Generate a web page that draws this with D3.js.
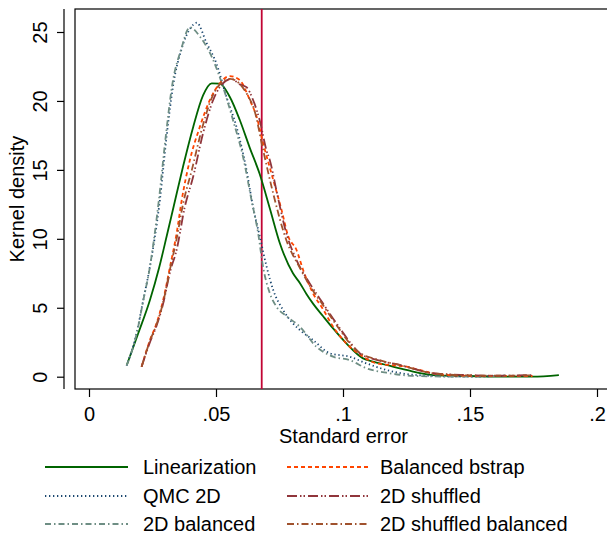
<!DOCTYPE html>
<html>
<head>
<meta charset="utf-8">
<script src="https://cdn.jsdelivr.net/npm/d3@7"></script>
<style>
  body { margin: 0; background: #fff; }
  text { font-family: "Liberation Sans", Arial, sans-serif; fill: #000; }
</style>
</head>
<body>
<script>
// Kernel density of standard errors, six estimators

// values: [standard error, density]
const linearization = [[0.0150,0.9],[0.0194,3.15],[0.024,5.56],[0.0276,7.9],[0.0306,10.2],[0.0334,12.4],[0.0371,15.3],[0.041,18.1],[0.0449,20.4],[0.0483,21.28],[0.0515,21.25],[0.0554,20.3],[0.0594,18.6],[0.0633,16.6],[0.0672,14.7],[0.0712,12.2],[0.0751,9.7],[0.0803,7.5],[0.083,6.8],[0.0856,6.0],[0.0882,5.3],[0.0921,4.4],[0.0961,3.5],[0.1013,2.42],[0.1079,1.33],[0.1118,1.09],[0.1171,0.85],[0.1249,0.49],[0.1354,0.12],[0.1485,0.05],[0.1746,0.0],[0.185,0.12]];
const qmc2d = [[0.0148,0.8],[0.0188,3.2],[0.0214,5.6],[0.024,8.0],[0.0279,12.8],[0.0306,17.5],[0.0332,21.2],[0.0365,23.8],[0.0400,25.3],[0.0424,25.67],[0.0463,24.2],[0.0502,22.7],[0.0541,20.3],[0.0581,18.1],[0.062,15.0],[0.0646,12.3],[0.0672,10.2],[0.0699,8.0],[0.0725,6.3],[0.0764,4.84],[0.0803,3.87],[0.083,3.39],[0.0882,2.66],[0.0948,1.7],[0.1026,1.45],[0.1092,0.97],[0.1171,0.49],[0.1289,0.12],[0.1485,0.0],[0.164,0.08]];
const balanced2d = [[0.0148,0.8],[0.0188,3.15],[0.0214,5.56],[0.024,7.98],[0.0275,12.8],[0.0302,17.4],[0.0328,21.2],[0.0362,23.7],[0.0397,25.34],[0.0437,24.66],[0.0489,22.96],[0.0528,21.0],[0.0567,18.6],[0.0607,15.9],[0.064,12.8],[0.0666,10.4],[0.0685,8.0],[0.0712,6.05],[0.0738,5.08],[0.0777,4.4],[0.083,3.63],[0.0895,2.18],[0.0961,1.45],[0.1026,1.21],[0.1092,0.61],[0.1171,0.29],[0.1289,0.05],[0.1485,0.0],[0.164,0.07]];
const balancedBstrap = [[0.0207,0.72],[0.024,2.66],[0.0266,3.87],[0.0292,5.56],[0.0319,7.98],[0.0345,10.4],[0.0365,12.8],[0.0397,15.7],[0.0436,18.1],[0.0476,20.07],[0.0515,21.28],[0.0554,21.8],[0.0594,21.5],[0.0633,20.07],[0.066,18.85],[0.0686,16.9],[0.0725,14.3],[0.0758,12.1],[0.0784,10.2],[0.0817,9.19],[0.0843,7.74],[0.0882,6.05],[0.0921,4.9],[0.0961,3.63],[0.1013,2.42],[0.1079,1.45],[0.1131,0.97],[0.1184,0.85],[0.1249,0.73],[0.1302,0.49],[0.1367,0.2],[0.1485,0.07],[0.1746,0.05]];
const shuffled2d = [[0.0207,0.72],[0.024,2.5],[0.0266,3.7],[0.0292,5.3],[0.0319,7.6],[0.0345,9.2],[0.0377,12.3],[0.041,14.5],[0.0449,17.65],[0.0489,20.07],[0.0523,21.2],[0.056,21.6],[0.0594,21.2],[0.062,21.0],[0.0646,20.07],[0.0672,18.6],[0.0699,16.4],[0.0712,15.7],[0.0738,13.5],[0.0777,10.4],[0.0817,8.46],[0.0869,6.77],[0.0921,5.32],[0.0974,3.87],[0.1053,1.94],[0.1066,1.7],[0.1144,1.16],[0.1223,0.85],[0.1354,0.25],[0.1485,0.12],[0.1616,0.07],[0.1746,0.12]];
const shuffledBalanced2d = [[0.0207,0.72],[0.024,2.6],[0.0266,3.8],[0.0292,5.4],[0.0319,7.8],[0.0345,10.0],[0.037,12.5],[0.0405,15.0],[0.0445,18.0],[0.0485,20.3],[0.052,21.3],[0.0555,21.6],[0.059,21.3],[0.0625,20.4],[0.065,19.4],[0.0686,16.4],[0.0725,13.3],[0.0777,9.9],[0.083,7.9],[0.0869,6.6],[0.0921,5.2],[0.0974,3.75],[0.1053,1.9],[0.1144,1.2],[0.1223,0.85],[0.1354,0.25],[0.1485,0.1],[0.1616,0.07],[0.1746,0.1]];

const seriesNames = ["Linearization", "QMC 2D", "2D balanced", "Balanced bstrap", "2D shuffled", "2D shuffled balanced"];
const xTickValues = [0, 0.05, 0.1, 0.15, 0.2];
const xTickLabels = ["0", ".05", ".1", ".15", ".2"];
const yTickValues = [0, 5, 10, 15, 20, 25];
const refLine = 0.068;

const svgWidth = 607;
const svgHeight = 536;

// plot region (extends slightly past the right edge, like the original)
const plot = { left: 75, top: 9, right: 612, bottom: 389 };

const series = [linearization, qmc2d, balanced2d, balancedBstrap, shuffled2d, shuffledBalanced2d];
const styles = [
    { color: "#006400", dash: null },
    { color: "#1a476f", dash: "1.3,2.7" },
    { color: "#6e8e84", dash: "6,3,1.5,3" },
    { color: "#ff4500", dash: "4,3" },
    { color: "#90353b", dash: "10,3,1.5,2,1.5,3" },
    { color: "#a0522d", dash: "7,3,1.5,3" }
];

let svg = d3.select("body")
    .append("svg")
    .attr("width", svgWidth)
    .attr("height", svgHeight);

const x = d3.scaleLinear().domain([0, 0.2]).range([89, 597]);
const y = d3.scaleLinear().domain([0, 25]).range([376.7, 32]);

// plot frame
svg.append("rect")
    .attr("x", plot.left)
    .attr("y", plot.top)
    .attr("width", plot.right - plot.left)
    .attr("height", plot.bottom - plot.top)
    .attr("fill", "none")
    .attr("stroke", "#000")
    .attr("stroke-width", 1.2);

// x axis
let xAxis = svg.append("g")
    .attr("transform", `translate(0, ${plot.bottom})`)
    .call(d3.axisBottom(x)
        .tickValues(xTickValues)
        .tickFormat((d, i) => xTickLabels[i])
        .tickSize(8)
        .tickSizeOuter(0));
xAxis.select(".domain").remove();
xAxis.selectAll("line").attr("stroke", "#000").attr("stroke-width", 1.2);
xAxis.selectAll("text")
    .attr("y", 18)
    .attr("dy", "0.71em")
    .attr("font-size", 20)
    .attr("font-family", null);

// y axis, offset left of the plot region
let yAxis = svg.append("g")
    .attr("transform", "translate(64, 0)")
    .call(d3.axisLeft(y)
        .tickValues(yTickValues)
        .tickSize(7)
        .tickSizeOuter(0));
yAxis.select(".domain").remove();
yAxis.append("line")
    .attr("y1", plot.top)
    .attr("y2", plot.bottom)
    .attr("stroke", "#000")
    .attr("stroke-width", 1.2);
yAxis.selectAll(".tick line").attr("stroke", "#000").attr("stroke-width", 1.2);
yAxis.selectAll("text")
    .attr("transform", "rotate(-90)")
    .attr("x", 0)
    .attr("y", -17)
    .attr("dy", 0)
    .attr("text-anchor", "middle")
    .attr("font-size", 20)
    .attr("font-family", null);

// axis titles
svg.append("text")
    .attr("x", (plot.left + plot.right) / 2)
    .attr("y", 443)
    .attr("text-anchor", "middle")
    .attr("font-size", 20)
    .text("Standard error");

svg.append("text")
    .attr("transform", `translate(24, ${(plot.top + plot.bottom) / 2}) rotate(-90)`)
    .attr("text-anchor", "middle")
    .attr("font-size", 20)
    .text("Kernel density");

// reference line
svg.append("line")
    .attr("x1", x(refLine))
    .attr("x2", x(refLine))
    .attr("y1", plot.top)
    .attr("y2", plot.bottom)
    .attr("stroke", "#c10534")
    .attr("stroke-width", 1.8);

// density curves
const line = d3.line()
    .x(d => x(d[0]))
    .y(d => y(d[1]))
    .curve(d3.curveMonotoneX);

series.forEach((s, i) => {
    svg.append("path")
        .datum(s)
        .attr("d", line)
        .attr("fill", "none")
        .attr("stroke", styles[i].color)
        .attr("stroke-width", 1.8)
        .attr("stroke-dasharray", styles[i].dash);
});

// legend, two columns
const legendRows = [467, 496, 524];
const legendCols = [{ x1: 45, x2: 128, tx: 143 }, { x1: 287, x2: 368, tx: 380 }];

seriesNames.forEach((name, i) => {
    const col = legendCols[Math.floor(i / 3)];
    const ly = legendRows[i % 3];
    svg.append("line")
        .attr("x1", col.x1)
        .attr("x2", col.x2)
        .attr("y1", ly)
        .attr("y2", ly)
        .attr("stroke", styles[i].color)
        .attr("stroke-width", 1.8)
        .attr("stroke-dasharray", styles[i].dash);
    svg.append("text")
        .attr("x", col.tx)
        .attr("y", ly + 7)
        .attr("font-size", 20)
        .text(name);
});
</script>
</body>
</html>
